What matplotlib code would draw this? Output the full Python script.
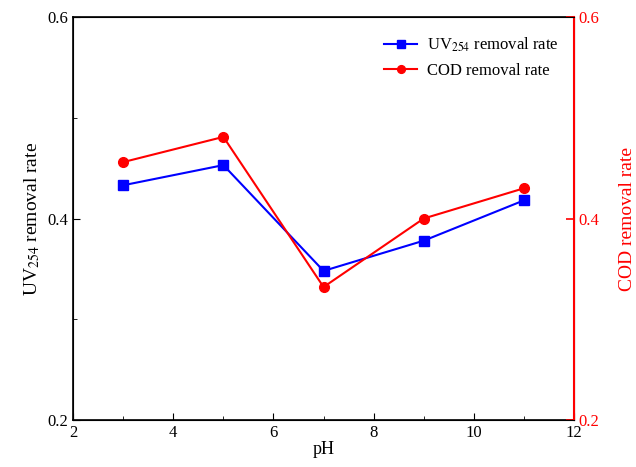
import numpy as np
import matplotlib.pyplot as plt
from matplotlib.ticker import MultipleLocator, NullLocator

plt.rcParams['font.family'] = ['Liberation Serif', 'DejaVu Serif']
plt.rcParams['mathtext.fontset'] = 'stix'

ph = [3, 5, 7, 9, 11]
uv254 = [0.433, 0.453, 0.348, 0.378, 0.418]
cod = [0.456, 0.481, 0.332, 0.400, 0.430]

fig = plt.figure(figsize=(6.36, 4.67), dpi=100)
ax = fig.add_axes([0.115, 0.1006, 0.7875, 0.863])
ax2 = ax.twinx()

l1, = ax.plot(ph, uv254, color='blue', marker='s', markersize=7, lw=1.5,
              label='UV$_{254}$ removal rate')
l2, = ax2.plot(ph, cod, color='red', marker='o', markersize=7, lw=1.5,
               label='COD removal rate')

ax.set_xlim(2, 12)
ax.set_ylim(0.2, 0.6)
ax2.set_ylim(0.2, 0.6)
ax.xaxis.set_major_locator(MultipleLocator(2))
ax.xaxis.set_minor_locator(MultipleLocator(1))
ax.yaxis.set_major_locator(MultipleLocator(0.2))
ax.yaxis.set_minor_locator(MultipleLocator(0.1))
ax2.yaxis.set_major_locator(MultipleLocator(0.2))
ax2.yaxis.set_minor_locator(NullLocator())

ax.tick_params(which='both', direction='in', labelsize=12, top=False)
ax.tick_params(which='major', length=5)
ax.tick_params(which='minor', length=3)
ax2.tick_params(which='both', direction='in', labelsize=12, colors='red',
                length=6, width=1.2)
ax2.spines['right'].set_color('red')
ax2.spines['right'].set_linewidth(1.5)
for s in ('left', 'bottom', 'top'):
    ax.spines[s].set_linewidth(1.2)

ax.set_xlabel('pH', fontsize=13, labelpad=0)
ax.set_ylabel('UV$_{254}$ removal rate', fontsize=14)
ax2.set_ylabel('COD removal rate', fontsize=14, color='red', labelpad=14)

ax.legend(handles=[l1, l2], loc='upper right', frameon=False, fontsize=12,
          bbox_to_anchor=(1.0, 0.99), handlelength=2.0, markerscale=0.8,
          handletextpad=0.6)

fig.savefig('out.png', dpi=100)
